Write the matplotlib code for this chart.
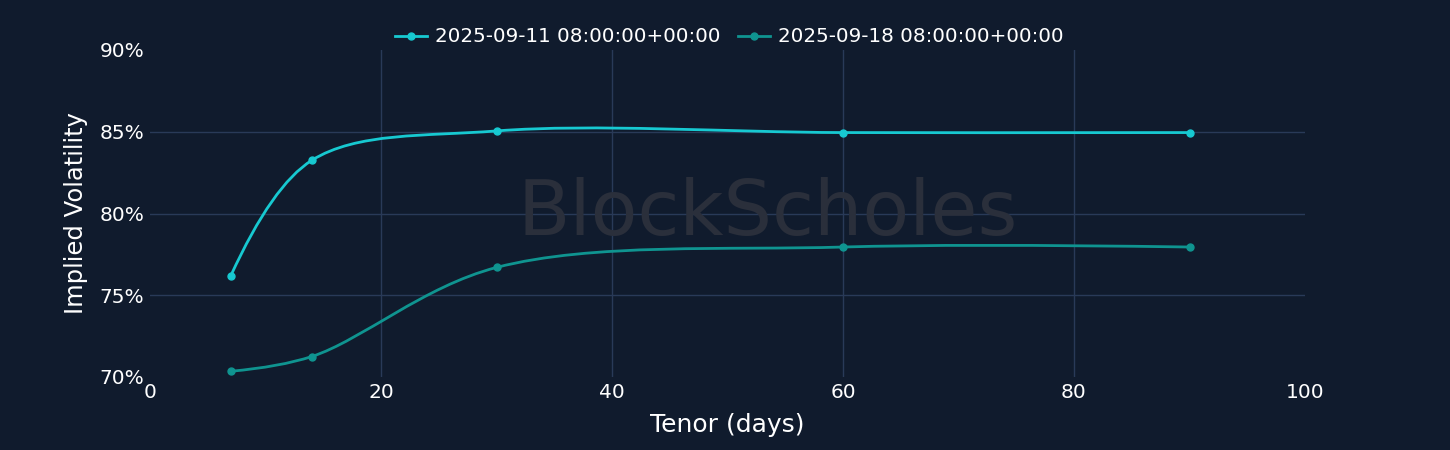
import numpy as np
import matplotlib
matplotlib.use("Agg")
import matplotlib.pyplot as plt
from matplotlib.path import Path
from matplotlib.patches import PathPatch
from matplotlib.lines import Line2D

# data
tenor = [7, 14, 30, 60, 90]
iv_0911 = [76.2, 83.25, 85.05, 84.95, 84.95]
iv_0918 = [70.35, 71.25, 76.7, 77.95, 77.95]
labels = ["2025-09-11 08:00:00+00:00", "2025-09-18 08:00:00+00:00"]
colors = ["#17c9d1", "#0f9490"]

bg = "#101b2d"
grid_c = "#293a58"

fig = plt.figure(figsize=(14.5, 4.5), dpi=100)
fig.patch.set_facecolor(bg)
ax = fig.add_axes([150 / 1450, 1 - 377 / 450, 1155 / 1450, 327 / 450])
ax.set_facecolor(bg)
ax.set_xlim(0, 100)
ax.set_ylim(70, 90)

# px per data unit, used for plotly-style spline tangents
sx = 1155 / 100
sy = 327 / 20


def tangent(p0, p1, p2, s=1.0):
    d1x, d1y = p0[0] - p1[0], p0[1] - p1[1]
    d2x, d2y = p2[0] - p1[0], p2[1] - p1[1]
    d1a = (d1x * d1x + d1y * d1y) ** 0.25
    d2a = (d2x * d2x + d2y * d2y) ** 0.25
    numx = (d2a * d2a * d1x - d1a * d1a * d2x) * s
    numy = (d2a * d2a * d1y - d1a * d1a * d2y) * s
    den1 = 3 * d2a * (d1a + d2a)
    den2 = 3 * d1a * (d1a + d2a)
    return ((p1[0] + numx / den1, p1[1] + numy / den1),
            (p1[0] - numx / den2, p1[1] - numy / den2))


def spline_path(xs, ys):
    pts = [(x * sx, y * sy) for x, y in zip(xs, ys)]
    tg = [tangent(pts[i - 1], pts[i], pts[i + 1]) for i in range(1, len(pts) - 1)]
    verts = [pts[0], tg[0][0], pts[1]]
    codes = [Path.MOVETO, Path.CURVE3, Path.CURVE3]
    for i in range(2, len(pts) - 1):
        verts += [tg[i - 2][1], tg[i - 1][0], pts[i]]
        codes += [Path.CURVE4] * 3
    verts += [tg[-1][1], pts[-1]]
    codes += [Path.CURVE3] * 2
    verts = [(x / sx, y / sy) for x, y in verts]
    return Path(verts, codes)


# grid drawn by hand so the edge lines stay off
for gx in [20, 40, 60, 80]:
    ax.axvline(gx, color=grid_c, lw=1, zorder=0)
for gy in [75, 80, 85]:
    ax.axhline(gy, color=grid_c, lw=1, zorder=0)

for ys, c in zip([iv_0911, iv_0918], colors):
    ax.add_patch(PathPatch(spline_path(tenor, ys), fill=False, edgecolor=c, lw=2, zorder=3))
    ax.plot(tenor, ys, "o", color=c, ms=5, zorder=4, clip_on=False)

ax.set_xticks([0, 20, 40, 60, 80, 100])
ax.set_yticks([70, 75, 80, 85, 90])
ax.set_yticklabels([f"{v}%" for v in [70, 75, 80, 85, 90]])
for s in ax.spines.values():
    s.set_visible(False)
ax.tick_params(colors="white", labelsize=14.5, length=0, pad=4)
ax.set_xlabel("Tenor (days)", color="white", fontsize=18, labelpad=8)
ax.set_ylabel("Implied Volatility", color="white", fontsize=17.5, labelpad=8)

# watermark
ax.text(0.535, 0.5, "BlockScholes", transform=ax.transAxes, ha="center", va="center",
        fontsize=55, color="#2a2f3b", zorder=1)

handles = [Line2D([0], [0], color=c, lw=2, marker="o", ms=5) for c in colors]
fig.legend(handles, labels, loc="center", bbox_to_anchor=(0.503, 1 - 37 / 450), ncol=2,
           frameon=False, fontsize=14.3, labelcolor="white", handlelength=1.6,
           handletextpad=0.4, columnspacing=0.9)

fig.savefig("out.png", dpi=100, facecolor=bg)
